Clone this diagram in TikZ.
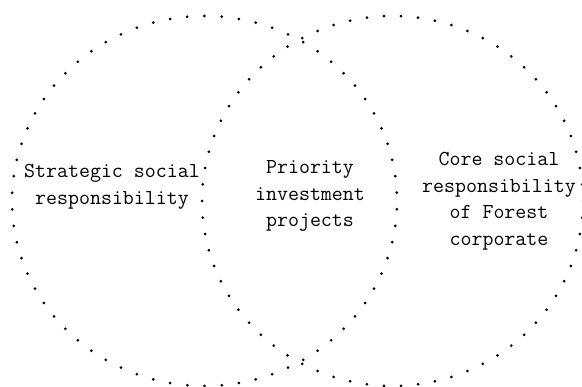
\documentclass[tikz,border=0pt]{standalone}
\tikzset{
  etiqueta/.style={inner sep=0pt, align=center,
    font=\ttfamily\fontsize{21.3}{26.5}\selectfont},
  punto/.style={fill=black}
}
\begin{document}
\begin{tikzpicture}[x=1pt, y=-1pt]
\useasboundingbox (0,0) rectangle (582,387);
% Circulo izquierdo
\foreach \i in {0,...,69} {
    \fill[punto] ({204.5+192.5*cos(2.57+\i*5.142857)},{201+185*sin(2.57+\i*5.142857)}) circle (1.5);
}
% Circulo derecho
\foreach \i in {0,...,69} {
    \fill[punto] ({392.5+190.5*cos(\i*5.142857)},{201+185*sin(\i*5.142857)}) circle (1.5);
}
% Textos
\node[etiqueta] (estrategica) at (112,187) {Strategic social\\responsibility};
\node[etiqueta] (prioridad) at (310,196) {Priority\\investment\\projects};
\node[etiqueta] (nucleo) at (499,201) {Core social\\responsibility\\of Forest\\corporate};
\end{tikzpicture}
\end{document}
